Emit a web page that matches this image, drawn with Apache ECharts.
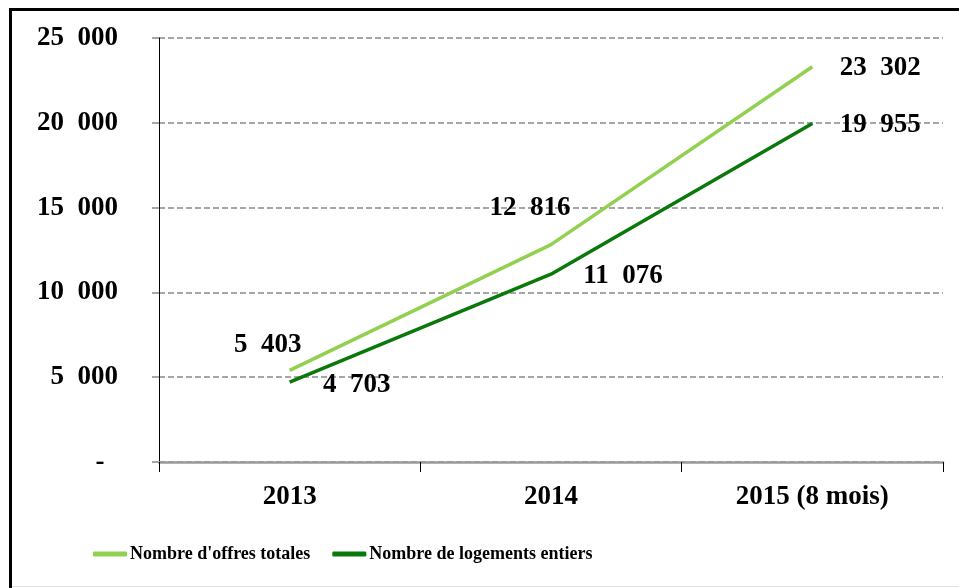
<!DOCTYPE html>
<html>
<head>
<meta charset="utf-8">
<script src="https://cdn.jsdelivr.net/npm/echarts@6/dist/echarts.min.js"></script>
<style>
  html, body { margin: 0; padding: 0; background: #fff; }
  #chart { width: 959px; height: 588px; }
</style>
</head>
<body>
<div id="chart"></div>
<script>
// données
const years = ['2013', '2014', '2015 (8 mois)']
const offresTotales = [5403, 12816, 23302]
const logementsEntiers = [4703, 11076, 19955]
const seriesNames = ["Nombre d'offres totales", 'Nombre de logements entiers']
const yTicks = [0, 5000, 10000, 15000, 20000, 25000]

// décalage des étiquettes (px) par point
const offsetsTotales = [[-22, -25], [-21, -37], [68, 1]]
const offsetsEntiers = [[67, 3], [72, 2], [68, 1]]

const font = 'Liberation Serif'

function fmt(v) {
    if (v === 0) return '-  '
    const s = String(v)
    return s.slice(0, s.length - 3) + '  ' + s.slice(-3)
}

function withLabels(values, offsets) {
    return values.map((v, i) => ({
        value: v,
        label: { offset: offsets[i] }
    }))
}

let chartDom = document.getElementById('chart')
let myChart = echarts.init(chartDom)
let option

option = {
    animation: false,
    backgroundColor: '#fff',
    grid: {
        left: 159,
        right: 16,
        top: 38,
        bottom: 126
    },
    legend: {
        left: 88,
        top: 540,
        itemWidth: 34,
        itemHeight: 5,
        itemGap: 22,
        icon: 'roundRect',
        textStyle: {
            fontFamily: font,
            fontWeight: 'bold',
            fontSize: 18,
            color: '#000',
            padding: [0, 0, 0, -2]
        },
        data: seriesNames
    },
    xAxis: {
        type: 'category',
        data: years,
        boundaryGap: true,
        axisLine: { lineStyle: { color: '#9a9a9a', width: 2.5 } },
        axisTick: { show: true, length: 10, lineStyle: { color: '#000', width: 1 } },
        axisLabel: {
            margin: 22,
            fontFamily: font,
            fontWeight: 'bold',
            fontSize: 27,
            color: '#000'
        }
    },
    yAxis: {
        type: 'value',
        min: yTicks[0],
        max: yTicks[yTicks.length - 1],
        interval: 5000,
        axisLine: { show: true, lineStyle: { color: '#000', width: 1 } },
        axisTick: { show: true, length: 7, lineStyle: { color: '#a6a6a6', width: 2 } },
        splitLine: { lineStyle: { color: '#a6a6a6', width: 2, type: [6, 3] } },
        axisLabel: {
            margin: 41,
            fontFamily: font,
            fontWeight: 'bold',
            fontSize: 27,
            color: '#000',
            formatter: fmt
        }
    },
    series: [
        {
            name: seriesNames[0],
            type: 'line',
            data: withLabels(offresTotales, offsetsTotales),
            symbol: 'circle',
            symbolSize: 0,
            itemStyle: { color: '#92d050' },
            lineStyle: { color: '#92d050', width: 3.5 },
            label: {
                show: true,
                position: 'inside',
                fontFamily: font,
                fontWeight: 'bold',
                fontSize: 27,
                color: '#000',
                formatter: p => fmt(p.value)
            },
            z: 3
        },
        {
            name: seriesNames[1],
            type: 'line',
            data: withLabels(logementsEntiers, offsetsEntiers),
            symbol: 'circle',
            symbolSize: 0,
            itemStyle: { color: '#0a780a' },
            lineStyle: { color: '#0a780a', width: 3.5 },
            label: {
                show: true,
                position: 'inside',
                fontFamily: font,
                fontWeight: 'bold',
                fontSize: 27,
                color: '#000',
                formatter: p => fmt(p.value)
            },
            z: 3
        }
    ],
    graphic: [
        { type: 'line', shape: { x1: 10.5, y1: 8, x2: 10.5, y2: 588 }, style: { stroke: '#000', lineWidth: 3 } },
        { type: 'line', shape: { x1: 9, y1: 9.5, x2: 959, y2: 9.5 }, style: { stroke: '#000', lineWidth: 3 } },
        { type: 'line', shape: { x1: 12, y1: 586.5, x2: 959, y2: 586.5 }, style: { stroke: '#e0e0e0', lineWidth: 1 } }
    ]
}

option && myChart.setOption(option)
</script>
</body>
</html>
